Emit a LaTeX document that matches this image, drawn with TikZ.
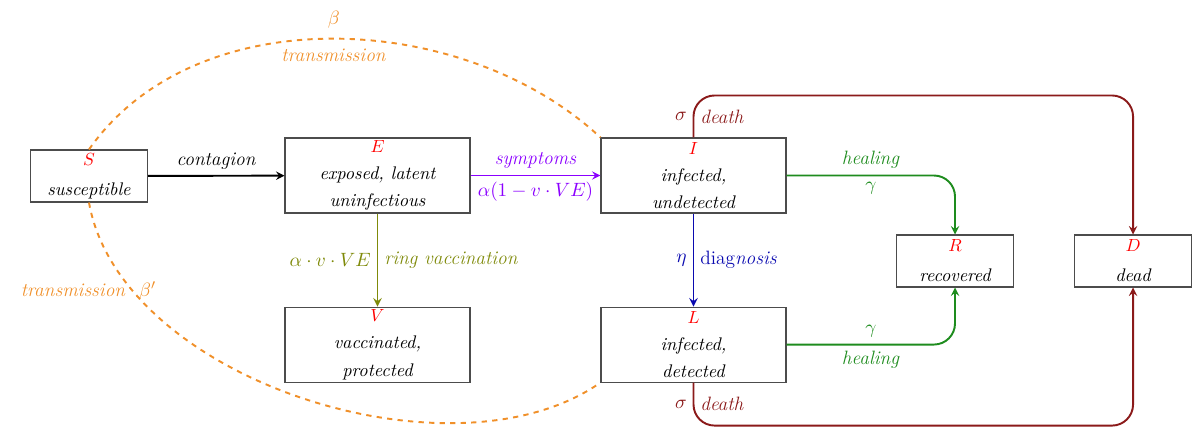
\documentclass[tikz,border=0pt]{standalone}
\usepackage{tikz}
\usetikzlibrary{positioning,arrows}
\definecolor{transc}{HTML}{F0902A}
\definecolor{symptc}{HTML}{8B00FF}
\definecolor{vaccc}{HTML}{7F8A0A}
\definecolor{diagc}{HTML}{0A0AB0}
\definecolor{healc}{HTML}{1E8C1E}
\definecolor{deathc}{HTML}{8B1A1A}

\begin{document}
\begin{tikzpicture}[
    every node/.style = {align=center, font=\fontsize{11}{13}\selectfont},
    box/.style = {draw=black!70, line width=0.6pt, minimum width=3.7cm, minimum height=1.5cm, inner sep=1pt, font=\itshape\fontsize{10.4}{12.5}\selectfont},
    smallbox/.style = {box, minimum width=2.34cm, minimum height=1.04cm},
    flow/.style = {->, >=stealth, line width=1.1pt}]
    \useasboundingbox (0,0) rectangle (23.88,8.6);
    % compartments
    \node[smallbox] (S) at (1.78,5.08) {\textcolor{red}{$S$}\\[4.5pt] susceptible};
    \node[box] (E) at (7.55,5.09) {\textcolor{red}{$E$}\\[3pt] exposed, latent\\[3pt] uninfectious};
    \node[box] (I) at (13.87,5.09) {\textcolor{red}{$I$}\\[3pt] infected,\\[3pt] undetected};
    \node[box, below=1.86cm of E] (V) {\textcolor{red}{$V$}\\[3pt] vaccinated,\\[3pt] protected};
    \node[box, below=1.86cm of I] (L) {\textcolor{red}{$L$}\\[3pt] infected,\\[3pt] detected};
    \node[smallbox] (R) at (19.1,3.38) {\textcolor{red}{$R$}\\[4.5pt] recovered};
    \node[smallbox, right=1.2cm of R] (D) {\textcolor{red}{$D$}\\[4.5pt] dead};
    % flows
    \draw[flow] (S) -- node[above] {\textit{contagion}} (E);
    \draw[flow, symptc] (E) -- node[above] {\textit{symptoms}} node[below] {$\alpha(1-v\cdot VE)$} (I);
    \draw[flow, vaccc] (E) -- node[left] {$\alpha\cdot v\cdot VE$} node[right] {\textit{ring vaccination}} (V);
    \draw[flow, diagc] (I) -- node[left] {$\eta$} node[right] {diag\textit{nosis}} (L);
    \draw[flow, healc, rounded corners=12pt] (I.east) -| node[pos=0.25, above] {\textit{healing}} node[pos=0.25, below] {$\gamma$} (R.north);
    \draw[flow, healc, rounded corners=12pt] (L.east) -| node[pos=0.25, above] {$\gamma$} node[pos=0.25, below] {\textit{healing}} (R.south);
    \draw[flow, deathc, rounded corners=12pt] (I.north) -- node[left] {$\sigma$} node[right] {\textit{death}} ++(0,0.84) -| (D.north);
    \draw[flow, deathc, rounded corners=12pt] (L.south) -- node[left] {$\sigma$} node[right] {\textit{death}} ++(0,-0.86) -| (D.south);
    % transmission
    \draw[transc, dashed, line width=1.1pt] (S.north) to[out=55, in=137, looseness=0.93]
        node[pos=0.5, above=2pt] {$\beta$} node[pos=0.5, below=2pt] {\textit{transmission}} (I.north west);
    \draw[transc, dashed, line width=1.1pt] (S.south) to[out=-80, in=-145, looseness=0.85]
        node[pos=0.18, left] {\textit{transmission}} node[pos=0.18, right] {$\beta'$} (L.south west);
\end{tikzpicture}
\end{document}
